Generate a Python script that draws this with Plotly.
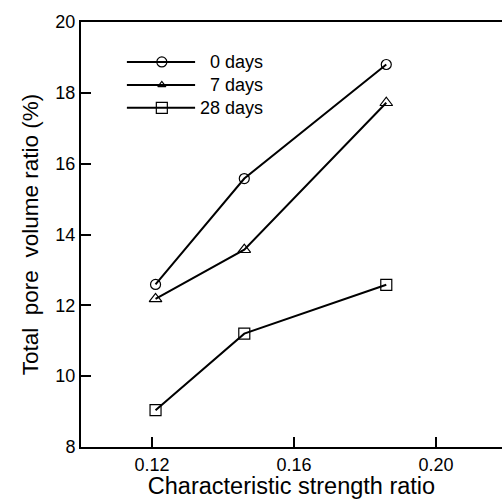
import plotly.graph_objects as go

# ---- data ----
x_ratio = [0.121, 0.146, 0.186]
days0 = [12.59, 15.58, 18.80]
days7 = [12.18, 13.57, 17.72]
days28 = [9.04, 11.20, 12.58]
series_names = ["0 days", "7 days", "28 days"]
symbols = ["circle-open", "triangle-up-open", "square-open"]
marker_sizes = [10, 11, 11]
legend_marker_sizes = [10, 7, 11]
x_ticks = [0.12, 0.16, 0.20]
x_tick_labels = ["0.12", "0.16", "0.20"]
y_ticks = [8, 10, 12, 14, 16, 18, 20]

FONT = "Liberation Sans, Arial, sans-serif"
W, H = 502, 499
ML, MT, MB, MR = 81, 22, 52, 0
XR = [0.10, 0.2186]
YR = [8, 20]


def fx(f):
    return XR[0] + f * (XR[1] - XR[0])


def fy(f):
    return YR[0] + f * (YR[1] - YR[0])


fig = go.Figure()
for vals, sym, ms, name in zip([days0, days7, days28], symbols, marker_sizes, series_names):
    fig.add_trace(go.Scatter(
        x=x_ratio, y=vals, mode="lines+markers", name=name,
        line=dict(color="black", width=2),
        marker=dict(symbol=sym, size=ms, color="black",
                    line=dict(color="black", width=1.2)),
        showlegend=False, cliponaxis=False))

# hand-drawn legend (positions as fractions of the plot area)
leg_x0, leg_x1, leg_xm = 0.109, 0.271, 0.192
leg_y = [0.906, 0.852, 0.798]
leg_text_x = 0.437
for yy, sym, ms, name in zip(leg_y, symbols, legend_marker_sizes, series_names):
    fig.add_trace(go.Scatter(
        x=[fx(leg_x0), fx(leg_x1)], y=[fy(yy), fy(yy)], mode="lines",
        line=dict(color="black", width=2), showlegend=False, hoverinfo="skip"))
    fig.add_trace(go.Scatter(
        x=[fx(leg_xm)], y=[fy(yy)], mode="markers",
        marker=dict(symbol=sym, size=ms, color="black",
                    line=dict(color="black", width=1.2)),
        showlegend=False, hoverinfo="skip"))
    fig.add_annotation(x=leg_text_x, y=yy, xref="x domain", yref="y domain",
                       text=name, showarrow=False, xanchor="right",
                       yanchor="middle",
                       font=dict(family=FONT, size=18, color="black"))

fig.update_layout(
    width=W, height=H,
    margin=dict(l=ML, r=MR, t=MT, b=MB),
    plot_bgcolor="white", paper_bgcolor="white",
    showlegend=False,
    font=dict(family=FONT, size=18, color="black"),
    xaxis=dict(range=XR, tickvals=x_ticks, ticktext=x_tick_labels,
               ticks="inside", ticklen=10, tickwidth=1.5, tickcolor="black",
               showline=True, linewidth=2, linecolor="black", mirror=True,
               showgrid=False, zeroline=False,
               title=dict(text="Characteristic strength ratio",
                          font=dict(size=23.5), standoff=2)),
    yaxis=dict(range=YR, tickvals=y_ticks,
               ticks="inside", ticklen=10, tickwidth=1.5, tickcolor="black",
               showline=True, linewidth=2, linecolor="black", mirror=False,
               showgrid=False, zeroline=False,
               title=dict(text="Total  pore  volume ratio (%)",
                          font=dict(size=22.5), standoff=10)),
)

fig.write_html("out.html", config={"displayModeBar": False})
